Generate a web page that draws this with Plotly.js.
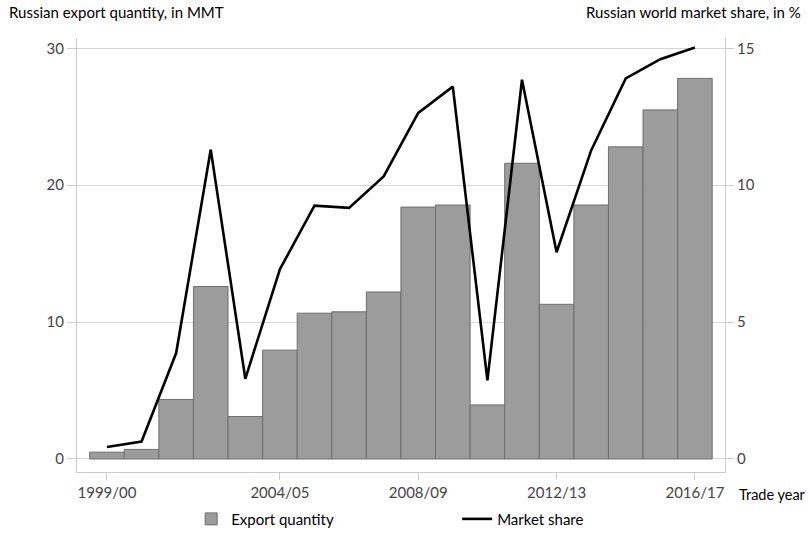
<!DOCTYPE html>
<html>
<head>
<meta charset="utf-8">
<script src="https://cdn.plot.ly/plotly-3.0.1.min.js"></script>
<style>html,body{margin:0;padding:0;background:#fff;}#chart{width:810px;height:533px;}</style>
</head>
<body>
<div id="chart"></div>
<script>
const tradeYears = ["1999/00","2000/01","2001/02","2002/03","2003/04","2004/05","2005/06","2006/07","2007/08","2008/09","2009/10","2010/11","2011/12","2012/13","2013/14","2014/15","2015/16","2016/17"];
const exportQuantity = [0.5, 0.7, 4.35, 12.6, 3.1, 7.95, 10.65, 10.75, 12.2, 18.4, 18.55, 3.95, 21.6, 11.3, 18.55, 22.8, 25.5, 27.8];
const marketShare = [0.44, 0.64, 3.87, 11.3, 2.93, 6.93, 9.25, 9.17, 10.32, 12.64, 13.6, 2.87, 13.85, 7.55, 11.27, 13.9, 14.6, 15.03];
const xTickVals = ["1999/00","2004/05","2008/09","2012/13","2016/17"];
const leftTicks = [0, 10, 20, 30];
const rightTicks = [0, 5, 10, 15];

const FONT = "Lato, 'Open Sans', sans-serif";

const traces = [
  {
    type: "bar",
    name: "Export quantity",
    x: tradeYears,
    y: exportQuantity,
    width: 1,
    marker: {color: "#9c9c9c", line: {color: "#6e6e6e", width: 1}},
    hoverinfo: "skip"
  },
  {
    type: "scatter",
    mode: "lines",
    name: "Market share",
    x: tradeYears,
    y: marketShare,
    yaxis: "y2",
    line: {color: "#000000", width: 2.6},
    hoverinfo: "skip"
  }
];

const layout = {
  width: 810,
  height: 533,
  margin: {l: 77, r: 85, t: 38, b: 61, pad: 0},
  paper_bgcolor: "#ffffff",
  plot_bgcolor: "#ffffff",
  font: {family: FONT, size: 15, color: "#000"},
  bargap: 0,
  showlegend: true,
  legend: {
    orientation: "h",
    xref: "container", yref: "container",
    x: 0.236, xanchor: "left",
    y: 0.026, yanchor: "middle",
    entrywidth: 221,
    font: {family: FONT, size: 15, color: "#000"},
    bgcolor: "rgba(0,0,0,0)",
    traceorder: "normal"
  },
  xaxis: {
    type: "category",
    categoryorder: "array",
    categoryarray: tradeYears,
    range: [-0.867, 17.87],
    tickmode: "array",
    tickvals: xTickVals,
    ticktext: xTickVals,
    ticks: "outside",
    ticklen: 7,
    tickcolor: "#cccccc",
    tickwidth: 1,
    showline: true,
    linecolor: "#cccccc",
    linewidth: 1,
    showgrid: false,
    zeroline: false,
    tickfont: {family: FONT, size: 15, color: "#444"},
    fixedrange: true
  },
  yaxis: {
    range: [-0.95, 30.75],
    tickmode: "array",
    tickvals: leftTicks,
    ticks: "outside",
    ticklen: 9,
    tickcolor: "#cccccc",
    showline: true,
    linecolor: "#cccccc",
    showgrid: true,
    gridcolor: "#d6d6d6",
    gridwidth: 1,
    zeroline: false,
    tickfont: {family: FONT, size: 15, color: "#444"},
    fixedrange: true
  },
  yaxis2: {
    overlaying: "y",
    side: "right",
    range: [-0.475, 15.375],
    tickmode: "array",
    tickvals: rightTicks,
    ticks: "outside",
    ticklen: 8,
    tickcolor: "#cccccc",
    showline: true,
    linecolor: "#cccccc",
    showgrid: false,
    zeroline: false,
    tickfont: {family: FONT, size: 15, color: "#444"},
    fixedrange: true
  },
  annotations: [
    {text: "Russian export quantity, in MMT", xref: "paper", yref: "paper", x: 0, xshift: -70, y: 1, yshift: 26, xanchor: "left", yanchor: "middle", showarrow: false, font: {family: FONT, size: 15, color: "#000"}},
    {text: "Russian world market share, in %", xref: "paper", yref: "paper", x: 1, xshift: 78, y: 1, yshift: 26, xanchor: "right", yanchor: "middle", showarrow: false, font: {family: FONT, size: 15, color: "#000"}},
    {text: "Trade year", xref: "paper", yref: "paper", x: 1, xshift: 12, y: 0, yshift: -22, xanchor: "left", yanchor: "middle", showarrow: false, font: {family: FONT, size: 14.5, color: "#000"}}
  ]
};

Plotly.newPlot("chart", traces, layout, {displayModeBar: false, staticPlot: true});
</script>
</body>
</html>
